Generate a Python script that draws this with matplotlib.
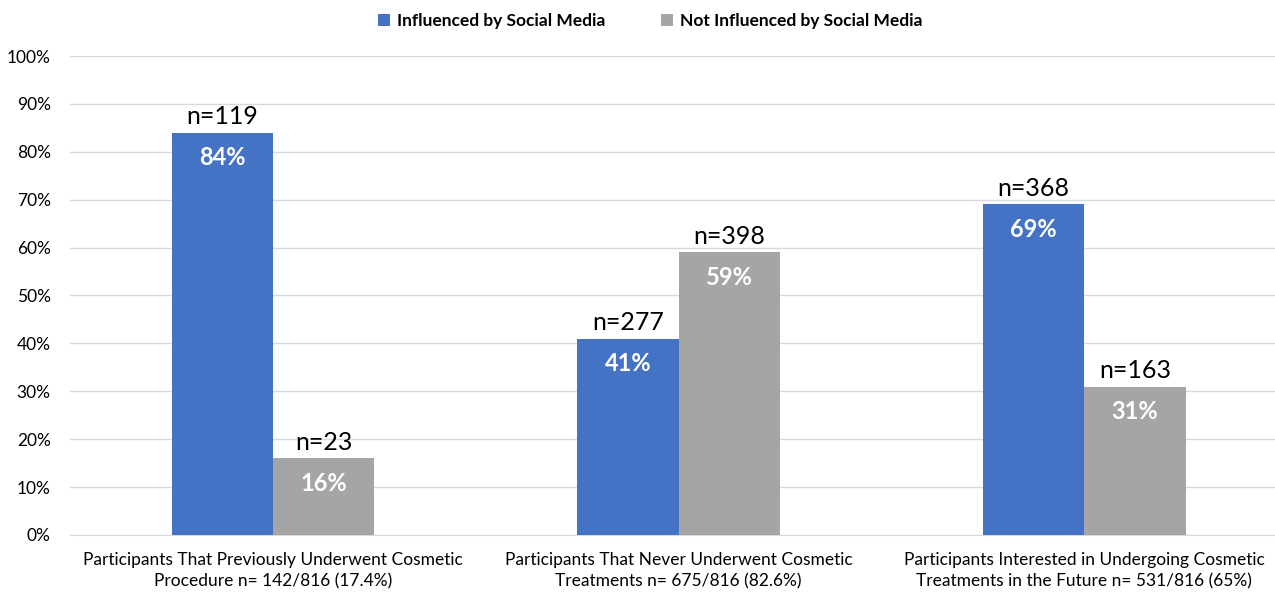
import numpy as np
import matplotlib
matplotlib.use("Agg")
import matplotlib.pyplot as plt

categories = ["Participants That Previously Underwent Cosmetic\nProcedure n= 142/816 (17.4%)",
              "Participants That Never Underwent Cosmetic\nTreatments n= 675/816 (82.6%)",
              "Participants Interested in Undergoing Cosmetic\nTreatments in the Future n= 531/816 (65%)"]
influenced_pct = [84, 41, 69]
not_influenced_pct = [16, 59, 31]
influenced_n = [119, 277, 368]
not_influenced_n = [23, 398, 163]

plt.rcParams['font.family'] = ['Lato', 'DejaVu Sans']

fig = plt.figure(figsize=(12.75, 5.92), dpi=100)
ax = fig.add_axes([0.055, 0.0963, 0.945, 0.8091])

x = np.arange(len(categories))
w = 0.25
blue = "#4472C4"
gray = "#A5A5A5"
b1 = ax.bar(x - w/2, influenced_pct, w, color=blue, label="Influenced by Social Media", zorder=3)
b2 = ax.bar(x + w/2, not_influenced_pct, w, color=gray, label="Not Influenced by Social Media", zorder=3)

for bars, pcts, ns in [(b1, influenced_pct, influenced_n), (b2, not_influenced_pct, not_influenced_n)]:
    for rect, p, n in zip(bars, pcts, ns):
        cx = rect.get_x() + rect.get_width()/2
        ax.text(cx, p + 3.4, f"n={n}", ha="center", va="center", fontsize=18, color="black", zorder=4)
        ax.text(cx, p - 5.2, f"{p}%", ha="center", va="center", fontsize=17, fontweight="bold",
                color="white", zorder=4)

ax.set_xlim(-0.5, 2.47)
ax.set_ylim(0, 100)
ax.set_yticks(np.arange(0, 101, 10))
ax.set_yticklabels([f"{v}%" for v in range(0, 101, 10)])
ax.set_xticks(x)
ax.set_xticklabels(categories, fontsize=12.5, linespacing=1.45)
ax.tick_params(axis="y", labelsize=12.5, length=0, pad=14)
ax.tick_params(axis="x", length=0, pad=12)
ax.grid(axis="y", color="#D9D9D9", linewidth=1, zorder=0)
for s in ["top", "right", "left"]:
    ax.spines[s].set_visible(False)
ax.spines["bottom"].set_color("#D9D9D9")

leg = fig.legend(loc="upper center", bbox_to_anchor=(0.51, 1.005), ncol=2, frameon=False,
                 prop={"weight": "bold", "size": 12.5}, handlelength=0.7, handleheight=0.7,
                 columnspacing=3.2, handletextpad=0.4)

fig.savefig("out.png", dpi=100, facecolor="white")
